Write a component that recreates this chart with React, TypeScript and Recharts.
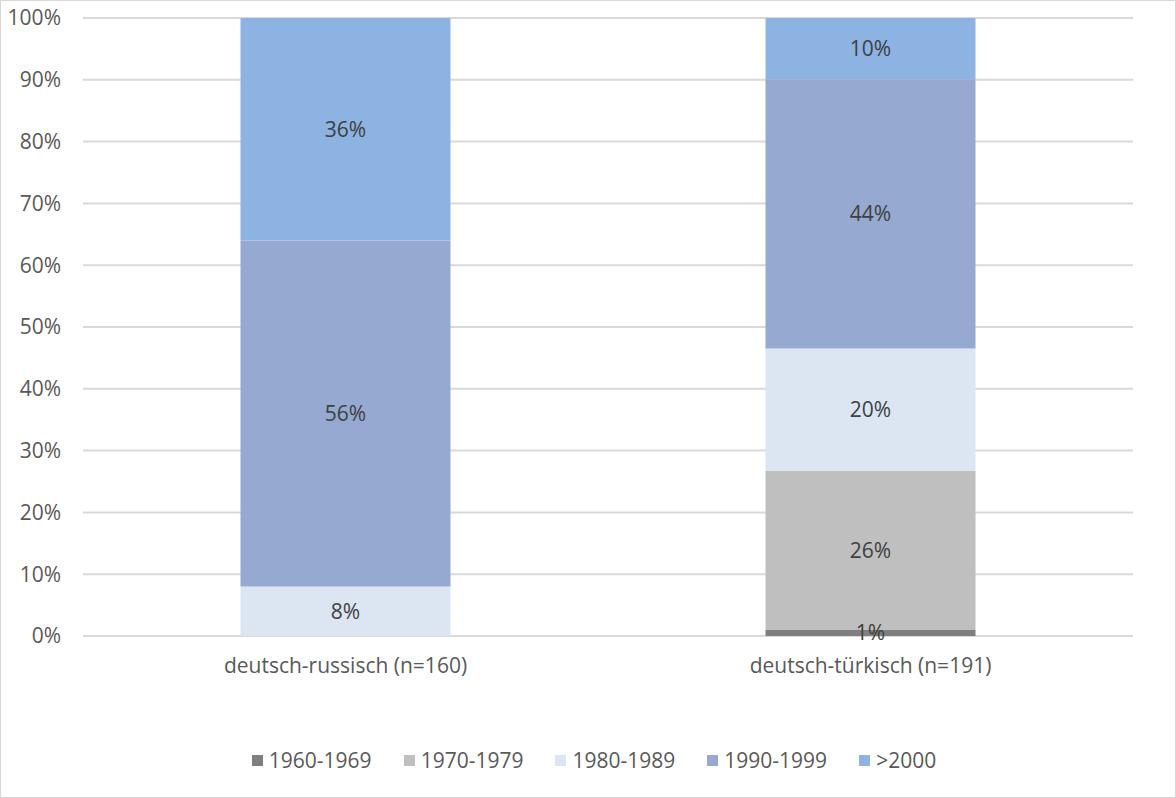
import { BarChart, CartesianGrid, XAxis, YAxis, Legend, Bar, LabelList } from 'recharts';

const categories = ['deutsch-russisch (n=160)', 'deutsch-türkisch (n=191)'];
const seriesNames = ['1960-1969', '1970-1979', '1980-1989', '1990-1999', '>2000'];
const seriesColors = ['#7f7f7f', '#bfbfbf', '#dce6f2', '#95a9d1', '#8db3e2'];
const s1960 = [0, 1];
const s1970 = [0, 26];
const s1980 = [8, 20];
const s1990 = [56, 44];
const s2000 = [36, 10];
const yTicks = [0, 0.1, 0.2, 0.3, 0.4, 0.5, 0.6, 0.7, 0.8, 0.9, 1];

const seriesValues = [s1960, s1970, s1980, s1990, s2000];
const keys = ['k1960', 'k1970', 'k1980', 'k1990', 'k2000'];

const data = categories.map((name, i) => {
  const row: Record<string, string | number> = { name };
  keys.forEach((k, j) => {
    row[k] = seriesValues[j][i];
  });
  return row;
});

const FONT = '"Open Sans", sans-serif';

const renderLegend = () => (
  <ul
    style={{
      display: 'flex',
      justifyContent: 'center',
      alignItems: 'center',
      margin: 0,
      padding: 0,
      paddingLeft: 12,
      listStyle: 'none',
      height: 40,
      fontFamily: FONT,
      fontSize: 21,
      color: '#595959',
    }}
  >
    {seriesNames.map((name, i) => (
      <li
        key={name}
        style={{ display: 'flex', alignItems: 'center', marginRight: i < seriesNames.length - 1 ? 32 : 0 }}
      >
        <span style={{ display: 'inline-block', width: 11, height: 11, background: seriesColors[i], marginRight: 6 }} />
        <span>{name}</span>
      </li>
    ))}
  </ul>
);

const pct = (v: any) => (Number(v) === 0 ? '' : `${v}%`);

export default function App() {
  return (
    <div
      style={{
        position: 'absolute',
        left: 0,
        top: 0,
        width: 1176,
        height: 798,
        border: '1px solid #d9d9d9',
        boxSizing: 'border-box',
        background: '#fff',
      }}
    >
      <BarChart
        width={1174}
        height={796}
        data={data}
        stackOffset='expand'
        barCategoryGap='30%'
        margin={{ top: 17, right: 42, left: 0, bottom: 91 }}
        style={{ fontFamily: FONT }}
      >
        <CartesianGrid vertical={false} stroke='#d9d9d9' strokeWidth={2} />
        <XAxis
          dataKey='name'
          axisLine={false}
          tickLine={false}
          tickSize={0}
          tickMargin={22}
          height={30}
          tick={{ fill: '#595959', fontSize: 21, fontFamily: FONT }}
        />
        <YAxis
          domain={[0, 1]}
          ticks={yTicks}
          tickFormatter={(v: number) => `${Math.round(v * 100)}%`}
          axisLine={false}
          tickLine={false}
          tickSize={0}
          tickMargin={22}
          width={82}
          interval={0}
          tick={{ fill: '#595959', fontSize: 21, fontFamily: FONT }}
        />
        <Legend content={renderLegend} verticalAlign='bottom' height={40} wrapperStyle={{ top: 739, left: 0, width: 1174 }} />
        {keys.map((k, j) => (
          <Bar key={k} dataKey={k} name={seriesNames[j]} stackId='a' fill={seriesColors[j]} isAnimationActive={false}>
            <LabelList
              dataKey={k}
              position='center'
              formatter={pct}
              fill='#404040'
              style={{ fontSize: 21, fontFamily: FONT }}
            />
          </Bar>
        ))}
      </BarChart>
    </div>
  );
}
